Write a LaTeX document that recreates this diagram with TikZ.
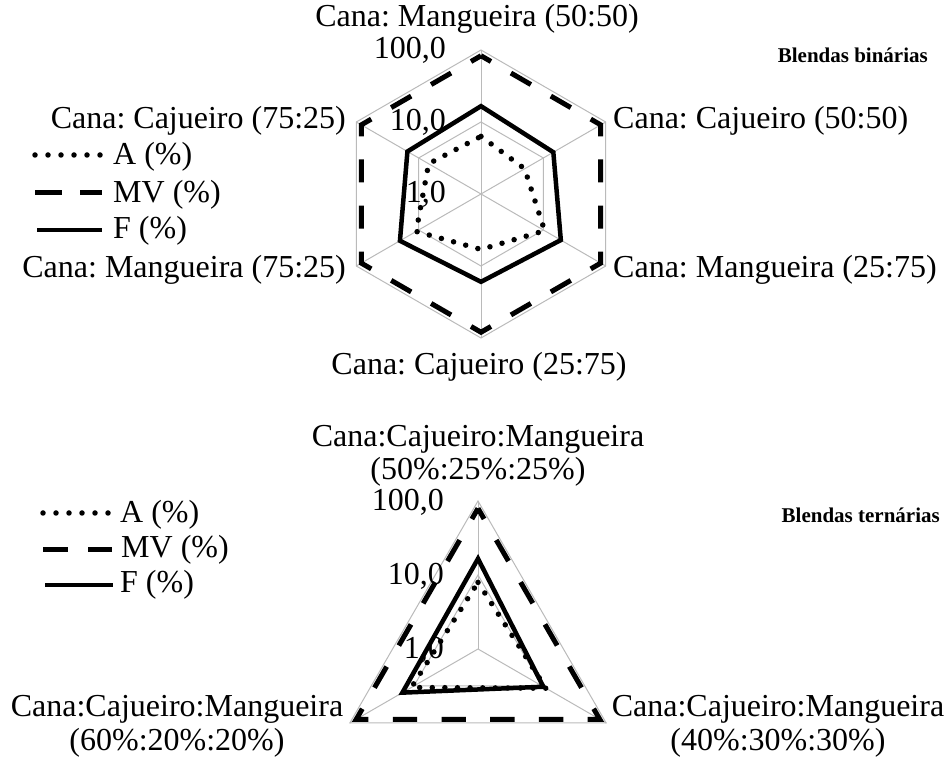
\documentclass[tikz,border=0pt]{standalone}
\usepackage{fontspec}
\setmainfont{Liberation Serif}
\usetikzlibrary{calc}
\frenchspacing
\begin{document}
\frenchspacing
\begin{tikzpicture}[x=1pt,y=1pt,
  gridl/.style={draw=black!27, line width=1pt},
  serA/.style={line width=5.5pt, dash pattern=on 0pt off 12.6pt, line cap=round},
  serMV/.style={line width=5pt, line join=miter},
  serF/.style={line width=4.5pt, line join=miter},
  lbl/.style={inner sep=0pt, font=\fontsize{32}{36}\selectfont},
  axl/.style={inner sep=0pt, anchor=base east, font=\fontsize{32}{36}\selectfont},
  ttl/.style={inner sep=0pt, anchor=base east, font=\fontsize{21}{24}\selectfont\bfseries}]

\useasboundingbox (0,0) rectangle (948,762);

%% ---------------- top chart: hexagon ----------------
\coordinate (H) at (481,568);
\foreach \i/\a/\fa/\ff in {1/90/0.40/0.61, 2/30/0.35/0.58, 3/-30/0.51/0.64,
                           4/-90/0.385/0.61, 5/-150/0.52/0.65, 6/150/0.42/0.59}{
  \pgfmathsetmacro{\ra}{144*\fa}
  \pgfmathsetmacro{\rf}{144*\ff}
  \coordinate (H\i) at ([shift={(\a:144)}]H);
  \coordinate (h\i) at ([shift={(\a:72)}]H);
  \coordinate (HA\i) at ([shift={(\a:\ra)}]H);
  \coordinate (HF\i) at ([shift={(\a:\rf)}]H);
  \coordinate (HM\i) at ([shift={(\a:138.24)}]H);
}
\draw[gridl] (H1)--(H2)--(H3)--(H4)--(H5)--(H6)--cycle;
\draw[gridl] (h1)--(h2)--(h3)--(h4)--(h5)--(h6)--cycle;
\foreach \i in {1,...,6} \draw[gridl] (H)--(H\i);

\draw[serA] (HA1)--(HA2)--(HA3)--(HA4)--(HA5)--(HA6)--cycle;
\draw[serMV, dash pattern=on 23.04pt off 23.04pt, dash phase=11.52pt]
  (HM1)--(HM2)--(HM3)--(HM4)--(HM5)--(HM6)--cycle;
\draw[serF] (HF1)--(HF2)--(HF3)--(HF4)--(HF5)--(HF6)--cycle;

\node[axl] (h100) at (446,703) {100,0};
\node[axl] (h10)  at (446,631) {10,0};
\node[axl] (h1l)  at (446,559) {1,0};

\node[lbl, anchor=base] (hl1) at (477,735) {Cana: Mangueira (50:50)};
\node[lbl, anchor=base west] (hl2) at (613,633) {Cana: Cajueiro (50:50)};
\node[lbl, anchor=base west] (hl3) at (613,484) {Cana: Mangueira (25:75)};
\node[lbl, anchor=base] (hl4) at (479,387) {Cana: Cajueiro (25:75)};
\node[lbl, anchor=base east] (hl5) at (346,484) {Cana: Mangueira (75:25)};
\node[lbl, anchor=base east] (hl6) at (346,633) {Cana: Cajueiro (75:25)};

\node[ttl] (t1) at (928,699) {Blendas binárias};

% legend top
\coordinate (LAs) at (35,607);  \coordinate (LAe) at (100,607);
\coordinate (LMs) at (35,569);  \coordinate (LMe) at (102,569);
\coordinate (LFs) at (37,532);  \coordinate (LFe) at (102,532);
\draw[serA, dash pattern=on 0pt off 13pt] (LAs)--(LAe);
\draw[serMV, dash pattern=on 27pt off 18pt] (LMs)--(LMe);
\draw[serF] (LFs)--(LFe);
\node[lbl, anchor=base west] (LAt) at (113,597) {A (\%)};
\node[lbl, anchor=base west] (LMt) at (113,559) {MV (\%)};
\node[lbl, anchor=base west] (LFt) at (113,523) {F (\%)};

%% ---------------- bottom chart: triangle ----------------
\coordinate (T) at (478,113);
\foreach \i/\a/\fa/\ff in {1/90/0.45/0.61, 2/-30/0.53/0.51, 3/210/0.52/0.59}{
  \pgfmathsetmacro{\ra}{148*\fa}
  \pgfmathsetmacro{\rf}{148*\ff}
  \coordinate (T\i) at ([shift={(\a:148)}]T);
  \coordinate (t\i) at ([shift={(\a:74)}]T);
  \coordinate (TA\i) at ([shift={(\a:\ra)}]T);
  \coordinate (TF\i) at ([shift={(\a:\rf)}]T);
  \coordinate (TM\i) at ([shift={(\a:140.6)}]T);
}
\draw[gridl] (T1)--(T2)--(T3)--cycle;
\draw[gridl] (t1)--(t2)--(t3)--cycle;
\foreach \i in {1,2,3} \draw[gridl] (T)--(T\i);

\draw[serA] (TA1)--(TA2)--(TA3)--cycle;
\draw[serMV, dash pattern=on 24.35pt off 24.35pt, dash phase=12.18pt]
  (TM1)--(TM2)--(TM3)--cycle;
\draw[serF] (TF1)--(TF2)--(TF3)--cycle;

\node[axl] (t100) at (444,251) {100,0};
\node[axl] (t10)  at (444,177) {10,0};
\node[axl] (t1l)  at (444,103) {1,0};

\node[lbl, anchor=base] (tl1a) at (478,315) {Cana:Cajueiro:Mangueira};
\node[lbl, anchor=base] (tl1b) at (478,282) {(50\%:25\%:25\%)};
\node[lbl, anchor=base] (tl2a) at (778,45) {Cana:Cajueiro:Mangueira};
\node[lbl, anchor=base] (tl2b) at (778,11) {(40\%:30\%:30\%)};
\node[lbl, anchor=base] (tl3a) at (177,45) {Cana:Cajueiro:Mangueira};
\node[lbl, anchor=base] (tl3b) at (177,11) {(60\%:20\%:20\%)};

\node[ttl] (t2) at (940,239) {Blendas ternárias};

% legend bottom
\coordinate (BAs) at (43,249);  \coordinate (BAe) at (108,249);
\coordinate (BMs) at (43,212);  \coordinate (BMe) at (112,212);
\coordinate (BFs) at (45,177);  \coordinate (BFe) at (113,177);
\draw[serA, dash pattern=on 0pt off 13pt] (BAs)--(BAe);
\draw[serMV, dash pattern=on 25pt off 20pt] (BMs)--(BMe);
\draw[serF] (BFs)--(BFe);
\node[lbl, anchor=base west] (BAt) at (120,239) {A (\%)};
\node[lbl, anchor=base west] (BMt) at (121,204) {MV (\%)};
\node[lbl, anchor=base west] (BFt) at (120,169) {F (\%)};
\end{tikzpicture}
\end{document}
